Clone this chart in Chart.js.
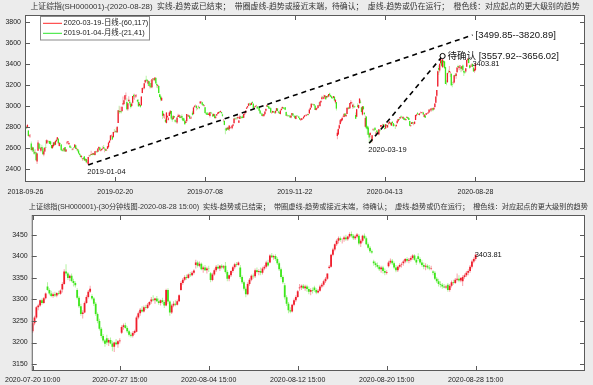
<!DOCTYPE html>
<html>
<head>
<meta charset="utf-8">
<script src="https://cdn.jsdelivr.net/npm/chart.js@4.4.0/dist/chart.umd.min.js"></script>
<style>
  html, body { margin: 0; padding: 0; background: #ececec; }
  #wrap { position: relative; width: 593px; height: 385px; overflow: hidden; }
  #topChart { position: absolute; left: 0; top: 0; }
  #bottomChart { position: absolute; left: 0; top: 196px; }
</style>
</head>
<body>
<div id="wrap">
  <canvas id="topChart" width="593" height="196"></canvas>
  <canvas id="bottomChart" width="593" height="189"></canvas>
</div>
<script>
// Daily candles [open, high, low, close], 2018-09-26 .. 2018-12-28
const daily2018 = [
  [2811,2830,2799,2806],[2800,2810,2781,2791],[2795,2827,2788,2821],
  [2768,2768,2710,2716],[2713,2732,2700,2721],[2724,2733,2700,2725],[2643,2662,2573,2583],[2582,2616,2565,2606],[2606,2612,2565,2568],[2566,2585,2536,2546],[2557,2589,2550,2561],[2559,2560,2480,2486],[2472,2555,2449,2550],[2576,2675,2576,2654],[2643,2645,2590,2594],[2605,2640,2590,2603],[2574,2610,2560,2603],[2610,2633,2590,2598],[2600,2613,2539,2542],[2540,2575,2524,2568],[2567,2610,2563,2603],
  [2612,2678,2605,2606],[2643,2684,2643,2676],[2662,2678,2653,2665],[2661,2670,2643,2659],[2668,2671,2640,2641],[2663,2670,2633,2635],[2630,2631,2599,2599],[2600,2632,2595,2630],[2620,2656,2610,2654],[2655,2657,2622,2632],[2632,2670,2627,2668],[2665,2690,2660,2679],[2681,2704,2675,2703],[2690,2697,2640,2646],[2620,2656,2615,2651],[2648,2652,2636,2646],[2635,2640,2579,2579],[2584,2594,2568,2575],[2578,2586,2565,2574],[2578,2603,2569,2601],[2611,2612,2567,2567],[2567,2591,2564,2588],
  [2647,2667,2638,2654],[2655,2666,2646,2665],[2636,2656,2630,2649],[2625,2626,2603,2605],[2611,2620,2600,2605],[2585,2597,2580,2584],[2587,2600,2580,2594],[2605,2610,2595,2603],[2607,2636,2605,2634],[2628,2628,2592,2593],[2591,2605,2578,2597],[2590,2592,2566,2577],[2577,2590,2546,2550],[2549,2553,2531,2536],[2530,2542,2510,2516],[2517,2530,2505,2527],[2500,2506,2480,2504],[2508,2516,2493,2498],[2522,2522,2482,2483],[2483,2506,2480,2494]
];

// Daily candles, 2019
const daily2019 = [
  [2497,2500,2456,2465],[2461,2488,2455,2464],[2446,2515,2440,2515],[2529,2536,2515,2533],[2530,2531,2520,2526],[2535,2574,2535,2544],[2541,2551,2530,2535],[2540,2556,2536,2554],[2550,2553,2533,2535],[2535,2571,2531,2570],[2569,2576,2565,2570],[2569,2578,2556,2560],[2565,2598,2563,2596],[2597,2618,2592,2610],[2607,2609,2578,2579],[2575,2588,2568,2581],[2582,2598,2576,2591],[2596,2618,2595,2601],[2611,2631,2595,2596],[2590,2596,2562,2594],[2590,2596,2575,2575],[2579,2595,2574,2584],
  [2593,2619,2593,2618],[2609,2656,2603,2653],[2652,2672,2650,2671],[2674,2724,2674,2721],[2717,2730,2708,2719],[2713,2717,2681,2682],[2703,2755,2700,2754],[2756,2781,2743,2755],[2755,2770,2749,2761],[2760,2793,2748,2751],[2750,2805,2743,2804],[2838,2961,2838,2961],[2955,3003,2925,2942],[2945,2996,2942,2954],[2951,2960,2930,2941],
  [2954,2997,2944,2994],[3015,3090,3006,3027],[3019,3055,3008,3055],[3060,3103,3050,3102],[3104,3129,3068,3106],[3038,3075,2960,2969],[2969,3027,2955,3026],[3047,3094,3044,3061],[3041,3059,3005,3027],[3025,3034,2976,2991],[3000,3034,2989,3022],[3032,3096,3023,3096],[3105,3117,3069,3091],[3089,3118,3060,3090],[3093,3109,3080,3101],[3103,3113,3083,3104],[3059,3064,3036,3043],[3039,3065,2996,2997],[3007,3039,3003,3022],[3010,3015,2983,2994],[3008,3091,3000,3091],
  [3124,3176,3122,3171],[3177,3180,3157,3177],[3170,3217,3159,3216],[3224,3250,3218,3247],[3251,3289,3228,3245],[3250,3253,3222,3239],[3212,3241,3193,3241],[3235,3236,3189,3190],[3183,3197,3167,3189],[3220,3248,3174,3177],[3180,3254,3170,3254],[3257,3268,3236,3263],[3260,3265,3240,3251],[3245,3271,3237,3271],[3267,3277,3214,3215],[3210,3225,3175,3198],[3193,3205,3170,3201],[3190,3193,3123,3124],[3112,3118,3082,3086],[3090,3107,3045,3063],[3052,3088,3052,3078],
  [2954,2957,2878,2907],[2910,2935,2890,2926],[2893,2920,2880,2894],[2869,2882,2838,2850],[2840,2941,2835,2939],[2893,2913,2891,2904],[2870,2896,2862,2883],[2905,2943,2905,2939],[2928,2957,2920,2955],[2953,2955,2873,2882],[2885,2897,2852,2870],[2878,2915,2870,2905],[2905,2906,2886,2892],[2865,2875,2844,2853],[2855,2875,2842,2852],[2843,2893,2829,2892],[2897,2927,2894,2909],[2897,2925,2895,2915],[2901,2914,2884,2887],[2891,2913,2891,2899],
  [2905,2922,2870,2890],[2886,2892,2855,2862],[2883,2888,2855,2861],[2860,2864,2822,2827],[2838,2864,2838,2852],[2855,2925,2853,2925],[2912,2913,2898,2909],[2902,2920,2898,2910],[2908,2913,2880,2882],[2884,2899,2876,2887],[2889,2900,2880,2890],[2937,2955,2910,2917],[2923,2989,2922,2987],[2993,3010,2983,3001],[3008,3014,2993,3008],[3004,3006,2958,2982],[2974,2986,2967,2977],[2993,3005,2986,2997],[2990,2996,2970,2979],
  [3025,3045,3025,3044],[3044,3048,3032,3044],[3037,3040,3008,3015],[3020,3023,3000,3005],[3005,3013,2993,3011],[2988,2990,2930,2933],[2933,2940,2917,2929],[2937,2943,2914,2915],[2924,2943,2916,2917],[2916,2935,2914,2930],[2906,2944,2892,2942],[2941,2945,2933,2937],[2934,2940,2924,2932],[2922,2923,2898,2902],[2905,2932,2900,2924],[2920,2924,2879,2887],[2890,2904,2880,2899],[2910,2923,2906,2923],[2927,2940,2921,2937],[2931,2946,2927,2944],[2945,2954,2934,2941],[2945,2959,2939,2953],[2943,2944,2927,2933],
  [2920,2929,2898,2908],[2868,2878,2850,2868],[2860,2860,2818,2821],[2780,2794,2733,2778],[2789,2793,2762,2768],[2779,2804,2773,2794],[2796,2800,2770,2774],[2780,2815,2762,2815],[2792,2802,2782,2797],[2808,2813,2797,2808],[2789,2817,2779,2815],[2813,2833,2806,2824],[2837,2883,2837,2883],[2884,2892,2868,2880],[2880,2890,2871,2880],[2888,2894,2871,2884],[2885,2903,2879,2897],[2841,2865,2840,2863],[2876,2920,2876,2902],[2900,2902,2885,2893],[2895,2900,2880,2890],[2901,2918,2884,2886],
  [2889,2925,2887,2924],[2923,2930,2914,2930],[2934,2957,2929,2957],[2975,2990,2973,2985],[2987,3000,2985,2999],[3003,3027,3001,3024],[3024,3031,3002,3021],[3022,3028,3002,3008],[3011,3034,3010,3031],[3040,3043,3022,3031],[3021,3027,2977,2979],[2979,2995,2977,2985],[2990,3005,2986,2999],[3002,3012,2995,3006],[2997,3000,2970,2977],[2986,2993,2979,2985],[2982,2987,2951,2955],[2957,2961,2926,2929],[2933,2939,2920,2932],[2926,2932,2903,2905],
  [2905,2927,2899,2913],[2909,2925,2898,2924],[2925,2948,2915,2948],[2955,2979,2947,2973],[2997,3015,2991,3008],[3003,3007,2988,2991],[2995,3004,2975,2978],[2981,2990,2972,2977],[2980,2988,2935,2938],[2938,2944,2926,2940],[2938,2955,2935,2954],[2950,2953,2933,2941],[2943,2951,2928,2940],[2936,2959,2925,2954],[2955,2981,2955,2980],[2977,2980,2950,2954],[2947,2953,2931,2939],[2940,2947,2925,2929],
  [2925,2960,2920,2958],[2963,2977,2956,2975],[2979,2995,2970,2991],[2987,2990,2972,2978],[2980,2985,2968,2978],[2988,2992,2960,2964],[2944,2948,2907,2909],[2913,2922,2898,2914],[2910,2914,2895,2905],[2910,2916,2895,2909],[2909,2917,2888,2891],[2892,2912,2885,2909],[2912,2933,2905,2933],[2929,2932,2907,2911],[2906,2912,2896,2903],[2907,2912,2883,2885],[2876,2907,2874,2906],[2911,2916,2902,2907],[2904,2912,2895,2903],[2901,2906,2885,2889],[2887,2891,2870,2872],
  [2870,2881,2858,2875],[2870,2884,2865,2884],[2877,2882,2868,2878],[2883,2900,2880,2899],[2898,2913,2895,2912],[2913,2920,2908,2914],[2910,2918,2904,2917],[2919,2928,2913,2924],[2922,2925,2910,2915],[2930,2968,2929,2967],[2968,2985,2962,2985],[2986,3026,2984,3022],[3019,3025,3011,3017],[3016,3022,3007,3017],[3017,3020,2998,3005],[3003,3010,2962,2962],[2962,2983,2957,2982],[2980,2988,2970,2981],[2981,3007,2978,3007],[3007,3036,3003,3005],[3000,3041,2991,3040],[3036,3051,3031,3050]
];

// Daily candles, 2020-01-02 .. 2020-08-28
const daily2020 = [
  [3066,3098,3066,3085],[3089,3094,3074,3084],[3070,3107,3065,3083],[3085,3105,3084,3104],[3094,3095,3060,3066],[3082,3096,3080,3095],[3099,3105,3081,3092],[3091,3115,3083,3115],[3118,3127,3099,3106],[3104,3105,3086,3090],[3092,3095,3073,3075],[3077,3086,3069,3075],[3078,3096,3074,3095],[3089,3090,3050,3053],[3036,3068,3023,3060],[3038,3038,2959,2976],
  [2716,2775,2685,2746],[2729,2789,2727,2783],[2786,2829,2786,2818],[2830,2874,2824,2866],[2856,2876,2844,2876],[2864,2891,2858,2890],[2898,2912,2893,2901],[2896,2927,2894,2927],[2929,2932,2904,2906],[2903,2921,2895,2917],[2924,2983,2924,2983],[2976,2985,2965,2984],[2987,2996,2972,2975],[2980,3030,2975,3030],[3025,3058,3019,3039],[3029,3041,3016,3031],[2991,3019,2974,3013],[2994,3024,2980,2988],[2997,3002,2981,2991],[2916,2940,2880,2880],
  [2899,2972,2899,2970],[3006,3026,2987,2993],[2981,3012,2975,3011],[3028,3074,3021,3071],[3041,3058,3024,3034],[2988,2989,2942,2943],[2919,3000,2910,2997],[2997,2999,2968,2969],[2936,2944,2913,2923],[2804,2910,2799,2887],[2901,2902,2785,2790],[2806,2815,2728,2779],[2797,2810,2728,2728],[2733,2747,2647,2702],[2724,2753,2704,2745],[2667,2703,2653,2660],[2679,2722,2653,2722],[2778,2788,2763,2781],[2765,2786,2760,2764],[2794,2799,2771,2772],[2738,2758,2730,2747],[2767,2771,2743,2750],
  [2743,2767,2734,2734],[2730,2780,2722,2780],[2768,2773,2756,2764],[2803,2820,2799,2820],[2808,2821,2803,2815],[2824,2832,2816,2826],[2826,2830,2792,2797],[2789,2790,2774,2783],[2787,2827,2787,2827],[2817,2826,2806,2811],[2797,2823,2795,2819],[2833,2848,2822,2839],[2839,2853,2830,2852],[2841,2843,2818,2827],[2815,2844,2810,2843],[2852,2853,2836,2838],[2836,2838,2807,2809],[2818,2829,2811,2815],[2811,2812,2782,2810],[2808,2822,2805,2822],[2836,2863,2834,2860],
  [2856,2879,2851,2878],[2877,2880,2865,2871],[2882,2897,2879,2895],[2900,2911,2891,2894],[2893,2898,2882,2892],[2883,2898,2877,2898],[2889,2889,2868,2870],[2882,2883,2863,2868],[2868,2879,2858,2875],[2889,2899,2887,2898],[2895,2896,2877,2883],[2886,2891,2866,2867],[2859,2861,2809,2814],[2813,2821,2800,2818],[2829,2847,2829,2846],[2846,2851,2828,2837],[2836,2847,2818,2836],[2831,2853,2826,2852],
  [2867,2915,2867,2915],[2911,2922,2904,2921],[2932,2943,2920,2923],[2924,2927,2914,2919],[2916,2931,2910,2930],[2936,2948,2930,2937],[2938,2944,2930,2943],[2942,2946,2936,2943],[2939,2946,2918,2920],[2897,2925,2894,2920],[2911,2914,2888,2890],[2918,2932,2914,2931],[2931,2937,2922,2935],[2931,2941,2925,2939],[2940,2968,2938,2967],[2966,2975,2955,2965],[2957,2978,2943,2977],[2978,2985,2972,2980],[2981,2984,2951,2961],[2968,2986,2967,2985],
  [2991,3025,2983,3025],[3031,3091,3026,3090],[3099,3153,3087,3152],[3187,3338,3186,3332],[3363,3388,3296,3345],[3339,3404,3319,3403],[3408,3468,3400,3450],[3434,3436,3373,3383],[3370,3476,3363,3443],[3430,3431,3373,3415],[3424,3431,3355,3361],[3370,3374,3210,3210],[3215,3246,3198,3214],[3226,3318,3225,3314],[3325,3345,3310,3321],[3323,3382,3316,3333],[3322,3332,3276,3325],[3308,3310,3190,3197],[3210,3228,3180,3205],[3223,3240,3207,3227],[3225,3295,3218,3294],[3295,3310,3279,3286],[3285,3312,3260,3310],
  [3322,3367,3318,3367],[3380,3392,3353,3371],[3361,3380,3340,3377],[3378,3387,3342,3386],[3374,3380,3321,3354],[3354,3380,3330,3379],[3386,3395,3340,3340],[3333,3343,3285,3319],[3326,3336,3305,3320],[3328,3360,3316,3360],[3373,3440,3372,3438],[3440,3458,3433,3451],[3448,3453,3406,3409],[3388,3392,3356,3364],[3377,3395,3363,3381],[3384,3405,3372,3386],[3400,3407,3368,3373],[3365,3368,3325,3330],[3334,3360,3318,3350],[3342,3406,3331,3403.81]
];

// 30-minute candles [open, high, low, close], 2020-07-20 10:00 .. 2020-08-28 15:00, 8 per day
const halfHourOHLC = [
  [3226,3250,3222,3245],[3245,3262,3240,3258],[3258,3285,3255,3282],[3282,3290,3275,3286],[3286,3300,3283,3298],[3298,3302,3288,3292],[3292,3306,3290,3303],[3303,3316,3300,3314],
  [3330,3340,3320,3322],[3322,3326,3310,3314],[3314,3320,3305,3308],[3308,3316,3304,3312],[3312,3318,3306,3309],[3309,3317,3305,3315],[3315,3320,3310,3313],[3313,3323,3311,3321],
  [3323,3340,3316,3336],[3336,3370,3334,3365],[3365,3382,3355,3360],[3360,3364,3345,3350],[3350,3358,3342,3355],[3355,3360,3340,3343],[3343,3348,3330,3338],[3338,3342,3328,3333],
  [3322,3326,3300,3304],[3304,3308,3280,3284],[3284,3290,3262,3266],[3266,3275,3256,3270],[3270,3295,3268,3292],[3292,3310,3290,3306],[3306,3322,3302,3318],[3318,3332,3315,3325],
  [3308,3312,3298,3302],[3302,3306,3285,3290],[3290,3294,3262,3266],[3266,3270,3245,3250],[3250,3255,3228,3232],[3232,3236,3210,3215],[3215,3220,3200,3205],[3205,3208,3190,3197],
  [3210,3218,3195,3200],[3200,3210,3192,3206],[3206,3212,3196,3198],[3198,3204,3180,3190],[3190,3202,3178,3200],[3200,3208,3194,3196],[3196,3206,3188,3203],[3203,3210,3198,3205],
  [3223,3240,3220,3236],[3236,3244,3230,3240],[3240,3246,3232,3234],[3234,3238,3222,3226],[3226,3230,3214,3218],[3218,3224,3212,3216],[3216,3226,3212,3222],[3222,3230,3218,3227],
  [3225,3262,3224,3258],[3258,3272,3254,3268],[3268,3280,3262,3276],[3276,3284,3270,3272],[3272,3286,3270,3282],[3282,3288,3276,3280],[3280,3292,3278,3288],[3288,3296,3284,3294],
  [3295,3306,3290,3300],[3300,3310,3296,3298],[3298,3304,3290,3302],[3302,3308,3294,3296],[3296,3302,3288,3292],[3292,3300,3286,3298],[3298,3304,3290,3294],[3294,3298,3280,3286],
  [3286,3325,3284,3322],[3322,3326,3290,3295],[3295,3298,3262,3270],[3270,3290,3266,3286],[3286,3296,3282,3290],[3290,3298,3284,3288],[3288,3300,3286,3296],[3296,3312,3294,3310],
  [3322,3342,3320,3338],[3338,3350,3334,3346],[3346,3356,3342,3352],[3352,3358,3346,3350],[3350,3360,3348,3358],[3358,3364,3352,3356],[3356,3366,3354,3362],[3362,3370,3358,3367],
  [3380,3392,3372,3386],[3386,3390,3374,3378],[3378,3388,3375,3383],[3383,3386,3368,3370],[3370,3378,3362,3374],[3374,3380,3366,3368],[3368,3376,3360,3372],[3372,3378,3364,3371],
  [3361,3364,3340,3345],[3345,3362,3342,3358],[3358,3372,3355,3368],[3368,3380,3364,3376],[3376,3382,3370,3372],[3372,3380,3366,3378],[3378,3382,3370,3374],[3374,3380,3370,3377],
  [3378,3387,3360,3364],[3364,3368,3342,3348],[3348,3358,3342,3356],[3356,3368,3352,3366],[3366,3378,3362,3375],[3375,3385,3370,3382],[3382,3387,3376,3380],[3380,3388,3378,3386],
  [3374,3380,3348,3352],[3352,3356,3336,3340],[3340,3344,3321,3325],[3325,3330,3305,3312],[3312,3340,3310,3336],[3336,3350,3332,3346],[3346,3358,3342,3355],[3355,3360,3348,3354],
  [3354,3372,3350,3368],[3368,3374,3360,3364],[3364,3370,3356,3366],[3366,3374,3356,3362],[3362,3376,3358,3372],[3372,3380,3368,3376],[3376,3390,3372,3386],[3386,3392,3376,3379],
  [3386,3405,3384,3402],[3402,3408,3396,3398],[3398,3404,3392,3401],[3401,3405,3390,3394],[3394,3398,3380,3384],[3384,3388,3366,3370],[3370,3374,3348,3352],[3352,3356,3336,3340],
  [3333,3338,3300,3305],[3305,3310,3285,3290],[3290,3294,3268,3275],[3275,3282,3268,3272],[3272,3290,3270,3288],[3288,3302,3284,3298],[3298,3310,3294,3306],[3306,3322,3304,3319],
  [3326,3336,3320,3328],[3328,3335,3322,3332],[3332,3336,3324,3326],[3326,3334,3320,3330],[3330,3334,3318,3324],[3324,3330,3312,3318],[3318,3326,3310,3322],[3322,3328,3314,3320],
  [3328,3332,3318,3322],[3322,3326,3312,3316],[3316,3324,3314,3320],[3320,3334,3318,3330],[3330,3338,3326,3334],[3334,3346,3330,3342],[3342,3352,3338,3348],[3348,3360,3346,3360],
  [3373,3380,3370,3376],[3376,3406,3374,3404],[3404,3420,3400,3416],[3416,3430,3412,3428],[3428,3440,3424,3436],[3436,3446,3430,3442],[3442,3446,3434,3438],[3438,3442,3430,3438],
  [3440,3448,3434,3444],[3444,3450,3436,3440],[3440,3448,3436,3446],[3446,3456,3442,3452],[3452,3458,3444,3448],[3448,3452,3438,3442],[3442,3450,3438,3446],[3446,3454,3442,3451],
  [3448,3452,3426,3430],[3430,3440,3422,3436],[3436,3450,3432,3448],[3448,3453,3440,3442],[3442,3446,3426,3428],[3428,3432,3416,3420],[3420,3424,3408,3412],[3412,3416,3406,3409],
  [3388,3392,3378,3384],[3384,3388,3374,3380],[3380,3386,3372,3376],[3376,3380,3366,3370],[3370,3378,3362,3374],[3374,3378,3360,3366],[3366,3372,3356,3362],[3362,3368,3358,3364],
  [3377,3390,3374,3386],[3386,3395,3382,3390],[3390,3394,3380,3384],[3384,3388,3370,3374],[3374,3380,3363,3368],[3368,3378,3364,3376],[3376,3384,3372,3380],[3380,3386,3374,3381],
  [3384,3392,3378,3388],[3388,3396,3384,3394],[3394,3398,3386,3390],[3390,3396,3384,3392],[3392,3400,3388,3396],[3396,3405,3392,3402],[3402,3405,3390,3392],[3392,3396,3380,3386],
  [3400,3407,3390,3394],[3394,3398,3382,3386],[3386,3392,3376,3380],[3380,3386,3370,3376],[3376,3384,3368,3378],[3378,3382,3370,3374],[3374,3380,3368,3372],[3372,3378,3368,3373],
  [3365,3368,3356,3362],[3362,3366,3345,3348],[3348,3352,3338,3342],[3342,3348,3330,3336],[3336,3342,3328,3334],[3334,3338,3325,3330],[3330,3336,3326,3328],[3328,3334,3325,3330],
  [3334,3338,3318,3322],[3322,3336,3318,3332],[3332,3344,3328,3340],[3340,3346,3334,3338],[3338,3350,3336,3346],[3346,3360,3342,3348],[3348,3356,3340,3344],[3344,3352,3340,3350],
  [3342,3356,3331,3352],[3352,3360,3348,3356],[3356,3366,3352,3362],[3362,3370,3356,3366],[3366,3380,3362,3376],[3376,3392,3372,3388],[3388,3398,3384,3394],[3394,3406,3390,3403.81]
];

// Axis ticks
const dayTickIndex = [0, 93, 186, 279, 372, 466];
const dayTickLabels = ['2018-09-26', '2019-02-20', '2019-07-08', '2019-11-22', '2020-04-13', '2020-08-28'];
const dayPriceTicks = [2400, 2600, 2800, 3000, 3200, 3400, 3600, 3800];
const halfHourTickIndex = [0, 47, 95, 143, 191, 239];
const halfHourTickLabels = ['2020-07-20 10:00', '2020-07-27 15:00', '2020-08-04 15:00', '2020-08-12 15:00', '2020-08-20 15:00', '2020-08-28 15:00'];
const halfHourPriceTicks = [3150, 3200, 3250, 3300, 3350, 3400, 3450];

// Trend lines (bar index, price)
const longTrendX = [65, 463];
const longTrendY = [2440, 3675];
const shortTrendX = [356, 432];
const shortTrendY = [2647, 3476];
const trendStartLabels = ['2019-01-04', '2020-03-19'];
const trendTargetLabels = ['[3499.85--3820.89]', '待确认 [3557.92--3656.02]'];
const legendLabels = ['2020-03-19-日线-(60,117)', '2019-01-04-月线-(21,41)'];
const legendColors = ['#ff2a2a', '#2ee52e'];
const lastCloseLabel = '3403.81';

const topTitle = '上证综指(SH000001)-(2020-08-28)  实线-趋势或已结束；  带圈虚线-趋势或接近末端，待确认；  虚线-趋势或仍在运行；  橙色线：对应起点的更大级别的趋势';
const bottomTitle = '上证综指(SH000001)-(30分钟线图-2020-08-28 15:00)  实线-趋势或已结束；  带圈虚线-趋势或接近末端，待确认；  虚线-趋势或仍在运行；  橙色线：对应起点的更大级别的趋势';

const FONT = '"Liberation Sans", "Noto Sans CJK SC", sans-serif';
const dailyOHLC = daily2018.concat(daily2019, daily2020);

Chart.defaults.font.family = FONT;
Chart.defaults.color = '#222';
Chart.defaults.animation = false;

// Wick + body datasets for candles
function candleDatasets(bars, bodyWidth, wickWidth) {
    const up = bars.map(b => b[3] >= b[0]);
    return [
        {
            type: 'bar',
            data: bars.map((b, i) => ({ x: i, y: [b[2], b[1]] })),
            backgroundColor: up.map(u => u ? '#f7a0a8' : '#b4f2a0'),
            barThickness: wickWidth,
            grouped: false,
            inflateAmount: 0,
            borderWidth: 0,
            order: 3
        },
        {
            type: 'bar',
            data: bars.map((b, i) => ({ x: i, y: [b[0], b[3]] })),
            backgroundColor: up.map(u => u ? '#f01e2c' : '#3ce61a'),
            barThickness: bodyWidth,
            grouped: false,
            inflateAmount: 0,
            borderWidth: 0,
            order: 2
        }
    ];
}

function trendDataset(xs, ys, endMarker) {
    return {
        type: 'line',
        data: xs.map((v, i) => ({ x: v, y: ys[i] })),
        borderColor: '#000',
        borderWidth: 1.6,
        borderDash: [5, 4],
        pointRadius: endMarker ? [0, 2.6] : 0,
        pointBackgroundColor: '#fff',
        pointBorderColor: '#000',
        pointBorderWidth: 1,
        order: 1
    };
}

function makeScales(xMin, xMax, xTicks, xLabels, yMin, yMax, yTicks, labelPad) {
    return {
        x: {
            type: 'linear', min: xMin, max: xMax, offset: false,
            grid: { display: false, drawTicks: false },
            border: { display: false },
            afterBuildTicks: s => { s.ticks = xTicks.map(v => ({ value: v })); },
            afterFit: s => { s.height = 14; },
            ticks: {
                autoSkip: false, maxRotation: 0, padding: labelPad,
                font: { size: 7 }, color: '#222',
                callback: (v, i) => xLabels[i]
            }
        },
        y: {
            min: yMin, max: yMax,
            grid: { display: false, drawTicks: false },
            border: { display: false },
            afterBuildTicks: s => { s.ticks = yTicks.map(v => ({ value: v })); },
            afterFit: s => { s.width = 25; },
            ticks: { padding: 4, font: { size: 7 }, color: '#222', callback: v => String(v) }
        }
    };
}

function fitFont(ctx, text, width, base) {
    ctx.font = base + 'px ' + FONT;
    const size = base * width / ctx.measureText(text).width;
    ctx.font = size + 'px ' + FONT;
    return size;
}

// White plot area, MATLAB-like box, inward ticks and title
function panelPlugin(title, titleY, titleWidth, extra) {
    return {
        id: 'panel',
        beforeDraw(chart) {
            const { ctx, chartArea: a } = chart;
            ctx.save();
            ctx.fillStyle = '#fff';
            ctx.fillRect(a.left, a.top, a.right - a.left, a.bottom - a.top);
            ctx.restore();
        },
        afterDraw(chart) {
            const { ctx, chartArea: a, scales: { x, y } } = chart;
            ctx.save();
            ctx.strokeStyle = '#5a5a5a';
            ctx.lineWidth = 1;
            ctx.strokeRect(a.left + 0.5, a.top + 0.5, a.right - a.left - 1, a.bottom - a.top - 1);
            ctx.beginPath();
            y.ticks.forEach(t => {
                const py = Math.round(y.getPixelForValue(t.value)) + 0.5;
                ctx.moveTo(a.left, py); ctx.lineTo(a.left + 5, py);
                ctx.moveTo(a.right, py); ctx.lineTo(a.right - 5, py);
            });
            x.ticks.forEach(t => {
                const px = Math.round(x.getPixelForValue(t.value)) + 0.5;
                ctx.moveTo(px, a.bottom); ctx.lineTo(px, a.bottom - 5);
                ctx.moveTo(px, a.top); ctx.lineTo(px, a.top + 5);
            });
            ctx.stroke();

            ctx.fillStyle = '#333';
            ctx.textAlign = 'center';
            ctx.textBaseline = 'middle';
            fitFont(ctx, title, titleWidth, 9);
            ctx.fillText(title, (a.left + a.right) / 2, titleY);

            if (extra) extra(chart, ctx, a, x, y);
            ctx.restore();
        }
    };
}

// Top panel extras: legend and trend annotations
function topExtras(chart, ctx, a, x, y) {
    // legend box
    const lx = a.left + 15, ly = a.top + 1, lw = 109, lh = 23.5;
    ctx.fillStyle = '#fff';
    ctx.fillRect(lx, ly, lw, lh);
    ctx.strokeStyle = '#8a8a8a';
    ctx.lineWidth = 1;
    ctx.strokeRect(lx + 0.5, ly + 0.5, lw, lh);
    ctx.textAlign = 'left';
    ctx.textBaseline = 'middle';
    const size = fitFont(ctx, legendLabels[0], 85, 8);
    legendLabels.forEach((t, i) => {
        const yy = ly + 7.3 + i * 10;
        ctx.strokeStyle = legendColors[i];
        ctx.beginPath();
        ctx.moveTo(lx + 3, yy); ctx.lineTo(lx + 22, yy);
        ctx.stroke();
        ctx.fillStyle = '#222';
        ctx.font = size + 'px ' + FONT;
        ctx.fillText(t, lx + 23.5, yy);
    });

    // trend annotations
    ctx.fillStyle = '#111';
    ctx.font = '9.5px ' + FONT;
    ctx.fillText(trendTargetLabels[0], x.getPixelForValue(longTrendX[1]) + 3, y.getPixelForValue(longTrendY[1]));
    ctx.fillText(trendTargetLabels[1], x.getPixelForValue(shortTrendX[1]) + 5, y.getPixelForValue(shortTrendY[1]));

    ctx.font = '7.5px ' + FONT;
    ctx.fillText(trendStartLabels[0], x.getPixelForValue(longTrendX[0]) - 1, y.getPixelForValue(longTrendY[0]) + 7);
    ctx.fillText(trendStartLabels[1], x.getPixelForValue(shortTrendX[0]) - 1, y.getPixelForValue(shortTrendY[0]) + 7);

    const last = dailyOHLC.length - 1;
    ctx.fillText(lastCloseLabel, x.getPixelForValue(last) - 3, y.getPixelForValue(dailyOHLC[last][3]));
}

function bottomExtras(chart, ctx, a, x, y) {
    const last = halfHourOHLC.length - 1;
    ctx.fillStyle = '#111';
    ctx.textAlign = 'left';
    ctx.textBaseline = 'middle';
    ctx.font = '7.5px ' + FONT;
    ctx.fillText(lastCloseLabel, x.getPixelForValue(last) - 1, y.getPixelForValue(halfHourOHLC[last][3]));
}

const baseOptions = {
    responsive: false,
    devicePixelRatio: 1,
    animation: false,
    plugins: { legend: { display: false }, tooltip: { enabled: false } }
};

new Chart(document.getElementById('topChart'), {
    type: 'bar',
    data: {
        datasets: [
            ...candleDatasets(dailyOHLC, 1.3, 0.9),
            trendDataset(longTrendX, longTrendY, false),
            trendDataset(shortTrendX, shortTrendY, true)
        ]
    },
    options: {
        ...baseOptions,
        layout: { padding: { top: 15, right: 8, left: 0, bottom: 0 }, autoPadding: false },
        scales: makeScales(-0.5, 579.5, dayTickIndex, dayTickLabels, 2278, 3866, dayPriceTicks, 6)
    },
    plugins: [panelPlugin(topTitle, 7.3, 550, topExtras)]
});

new Chart(document.getElementById('bottomChart'), {
    type: 'bar',
    data: { datasets: candleDatasets(halfHourOHLC, 1.8, 1) },
    options: {
        ...baseOptions,
        layout: { padding: { top: 19, right: 8, left: 0, bottom: 0 }, autoPadding: false },
        scales: makeScales(-0.5, 298, halfHourTickIndex, halfHourTickLabels, 3134, 3496, halfHourPriceTicks, 5)
    },
    plugins: [panelPlugin(bottomTitle, 11.3, 560, bottomExtras)]
});
</script>
</body>
</html>
